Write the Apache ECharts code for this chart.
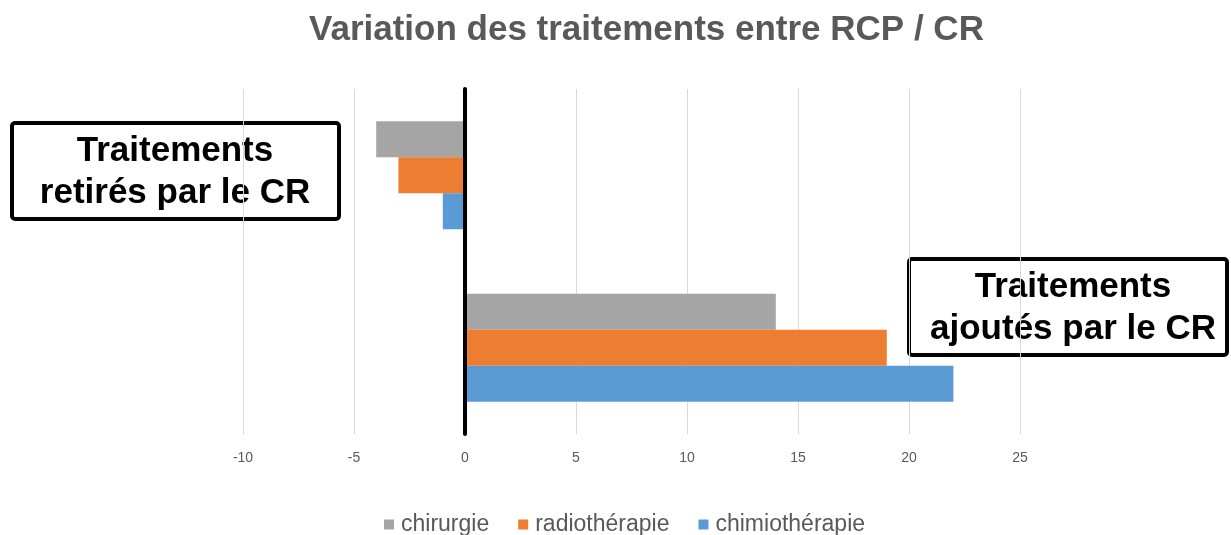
<!DOCTYPE html>
<html><head><meta charset="utf-8">
<script src="https://cdn.jsdelivr.net/npm/echarts@6/dist/echarts.min.js"></script>
<style>html,body{margin:0;padding:0;background:#fff}#c{width:1231px;height:535px}</style>
</head><body><div id="c"></div>
<script>
var categories = ['Traitements ajoutés par le CR', 'Traitements retirés par le CR'];
var chirurgie = [14, -4];
var radiotherapie = [19, -3];
var chimiotherapie = [22, -1];
var xTicks = { min: -10, max: 25, interval: 5 };

var chart = echarts.init(document.getElementById('c'));
var font = '"Liberation Sans", Arial, sans-serif';
chart.setOption({
  animation: false,
  textStyle: { fontFamily: font },
  title: {
    text: 'Variation des traitements entre RCP / CR',
    left: 304, top: 8,
    textStyle: { fontSize: 35, fontWeight: 'bold', color: '#595959', fontFamily: font }
  },
  legend: {
    top: 508, left: 379,
    data: ['chirurgie', 'radiothérapie', 'chimiothérapie'],
    icon: 'rect', itemWidth: 10, itemHeight: 10, itemGap: 29,
    textStyle: { fontSize: 23, color: '#595959', fontFamily: font, padding: [0, 0, 0, 2] }
  },
  grid: { left: 243, right: 211, top: 89, bottom: 101 },
  xAxis: {
    type: 'value', min: xTicks.min, max: xTicks.max, interval: xTicks.interval,
    axisLine: { show: false }, axisTick: { show: false },
    splitLine: { lineStyle: { color: '#D9D9D9', width: 1 } },
    axisLabel: { color: '#595959', fontSize: 14, margin: 17, fontFamily: font }
  },
  yAxis: {
    type: 'category', data: categories, z: 10,
    axisLine: { onZero: true, lineStyle: { color: '#000', width: 4 } },
    axisTick: { show: false }, axisLabel: { show: false }
  },
  series: [
    { name: 'chirurgie', type: 'bar', data: chirurgie, barWidth: 36, barGap: '0%', itemStyle: { color: '#A5A5A5' } },
    { name: 'radiothérapie', type: 'bar', data: radiotherapie, barWidth: 36, barGap: '0%', itemStyle: { color: '#ED7D31' } },
    { name: 'chimiothérapie', type: 'bar', data: chimiotherapie, barWidth: 36, barGap: '0%', itemStyle: { color: '#5B9BD5' } }
  ],
  graphic: [
    { type: 'group', left: 10, top: 121, z: 100, children: [
      { type: 'rect', shape: { x: 2, y: 2, width: 327, height: 96, r: 3 }, style: { fill: '#fff', stroke: '#000', lineWidth: 4 } },
      { type: 'text', style: { x: 165, y: 51, text: 'Traitements\nretirés par le CR', align: 'center', verticalAlign: 'middle', font: 'bold 35px ' + font, lineHeight: 42, fill: '#000' } }
    ]},
    { type: 'group', left: 907, top: 257, z: 100, children: [
      { type: 'rect', shape: { x: 2, y: 2, width: 318, height: 96, r: 3 }, style: { fill: '#fff', stroke: '#000', lineWidth: 4 } },
      { type: 'text', style: { x: 166, y: 51, text: 'Traitements\najoutés par le CR', align: 'center', verticalAlign: 'middle', font: 'bold 35px ' + font, lineHeight: 42, fill: '#000' } }
    ]}
  ]
});
</script></body></html>
